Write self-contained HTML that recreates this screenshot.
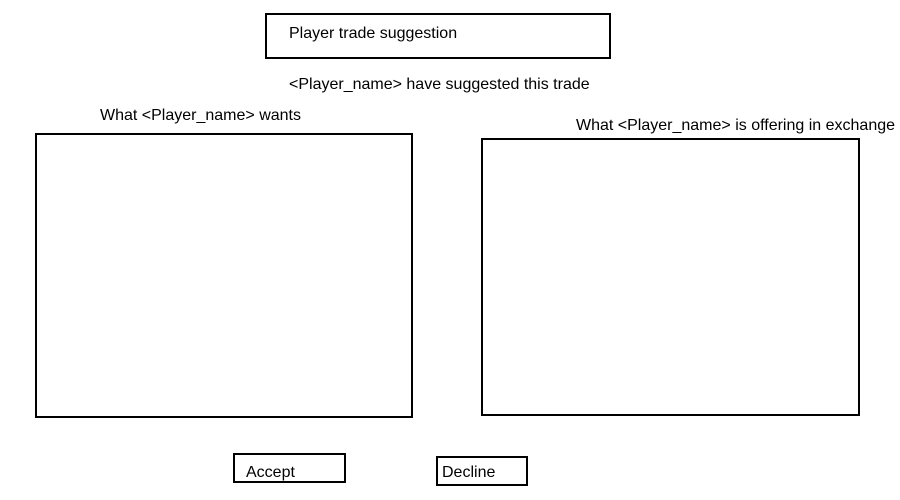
<!DOCTYPE html>
<html><head><meta charset="utf-8"><style>
html,body{margin:0;padding:0;background:#fff;}
body{width:900px;height:500px;position:relative;overflow:hidden;font-family:"Liberation Sans",Arial,sans-serif;font-size:16px;color:#000;}
.b{position:absolute;border:2px solid #000;box-sizing:border-box;}
.t{position:absolute;line-height:18px;white-space:nowrap;}
</style></head><body>
<div class="b" style="left:265px;top:13px;width:346px;height:46px;"></div>
<div class="t" style="left:289px;top:25px;">Player trade suggestion</div>
<div class="t" style="left:289px;top:76px;">&lt;Player_name&gt; have suggested this trade</div>
<div class="t" style="left:100px;top:107px;">What &lt;Player_name&gt; wants</div>
<div class="t" style="left:576px;top:117px;">What &lt;Player_name&gt; is offering in exchange</div>
<div class="b" style="left:35px;top:133px;width:378px;height:285px;"></div>
<div class="b" style="left:481px;top:138px;width:379px;height:278px;"></div>
<div class="b" style="left:233px;top:453px;width:113px;height:30px;"></div>
<div class="t" style="left:246px;top:464px;">Accept</div>
<div class="b" style="left:436px;top:456px;width:92px;height:30px;"></div>
<div class="t" style="left:442px;top:464px;">Decline</div>
</body></html>
